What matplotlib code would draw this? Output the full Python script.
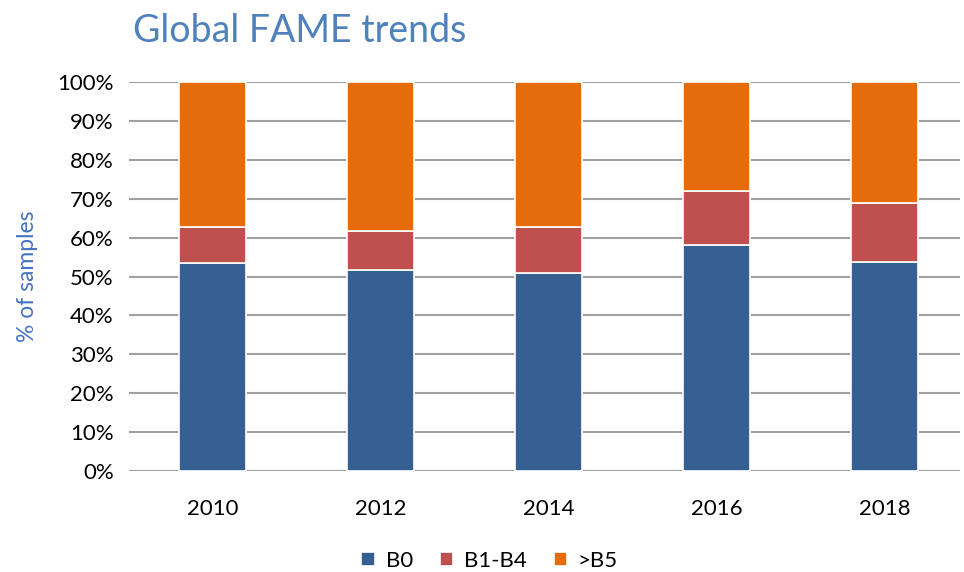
import numpy as np
import matplotlib.pyplot as plt

# Data (% of samples)
years = ['2010', '2012', '2014', '2016', '2018']
b0 = [53.5, 51.8, 51.0, 58.0, 53.8]
b1_b4 = [9.2, 10.0, 11.8, 14.0, 15.2]
gt_b5 = [37.3, 38.2, 37.2, 28.0, 31.0]

plt.rcParams['font.family'] = ['Lato', 'DejaVu Sans']

fig = plt.figure(figsize=(9.64, 5.72), dpi=100)
ax = fig.add_axes([0.1338, 0.1766, 0.862, 0.68])

x = np.arange(len(years))
w = 0.4
bottom1 = np.array(b0)
bottom2 = bottom1 + np.array(b1_b4)
ax.bar(x, b0, w, color='#366092', edgecolor='white', linewidth=1.2, label='B0', zorder=3)
ax.bar(x, b1_b4, w, bottom=bottom1, color='#C0504D', edgecolor='white', linewidth=1.2, label='B1-B4', zorder=3)
ax.bar(x, gt_b5, w, bottom=bottom2, color='#E46C0A', edgecolor='white', linewidth=1.2, label='>B5', zorder=3)

ax.set_xlim(-0.5, 4.45)
ax.set_ylim(0, 100)
ax.set_yticks(range(0, 101, 10))
ax.set_yticklabels([f'{v}%' for v in range(0, 101, 10)], fontsize=16)
ax.set_xticks(x)
ax.set_xticklabels(years, fontsize=16)
ax.tick_params(length=0, pad=11)
ax.tick_params(axis='x', pad=20)
ax.yaxis.grid(True, color='#A0A0A0', linewidth=1.5, zorder=0)
for s in ax.spines.values():
    s.set_visible(False)

ax.set_ylabel('% of samples', color='#4472C4', fontsize=16.5, labelpad=14)
fig.text(0.138, 0.945, 'Global FAME trends', color='#4F81BD', fontsize=27, va='center', ha='left')

fig.legend(loc='center', bbox_to_anchor=(0.508, 0.02), ncol=3, frameon=False,
           fontsize=16, handlelength=0.6, handleheight=0.6, handletextpad=0.5,
           columnspacing=1.2, borderpad=0)

fig.savefig('out.png', dpi=100)
